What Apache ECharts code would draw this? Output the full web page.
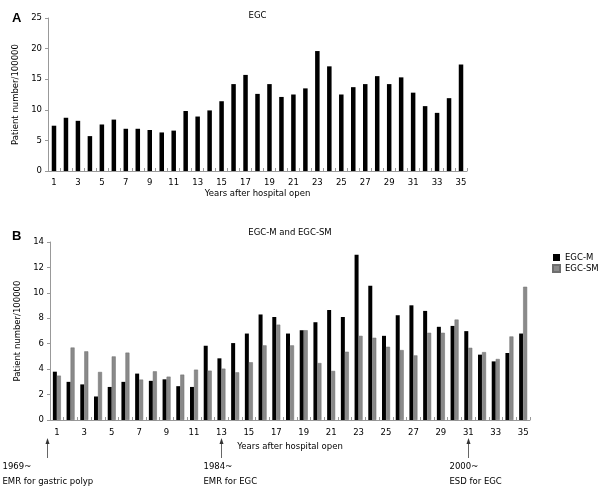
<!DOCTYPE html>
<html><head><meta charset="utf-8">
<script src="https://cdn.jsdelivr.net/npm/echarts@6/dist/echarts.min.js"></script>
<style>html,body{margin:0;padding:0;background:#fff}#c{width:608px;height:493px}</style>
</head><body><div id="c"></div>
<script>
var years = [];
for (var i = 1; i <= 35; i++) years.push(String(i));
var egc = [7.4,8.7,8.2,5.7,7.6,8.4,6.9,6.9,6.7,6.3,6.6,9.8,8.9,9.9,11.4,14.2,15.7,12.6,14.2,12.1,12.5,13.5,19.6,17.1,12.5,13.7,14.2,15.5,14.2,15.3,12.8,10.6,9.5,11.9,17.4];
var egcM = [3.8,3.0,2.8,1.85,2.6,3.0,3.65,3.08,3.2,2.66,2.6,5.84,4.85,6.05,6.8,8.3,8.1,6.8,7.06,7.69,8.65,8.1,13.0,10.56,6.62,8.24,9.02,8.58,7.33,7.4,6.99,5.14,4.61,5.27,6.8];
var egcSM = [3.49,5.7,5.4,3.78,5.0,5.3,3.18,3.83,3.41,3.57,3.96,3.88,4.04,3.75,4.54,5.87,7.5,5.87,7.06,4.48,3.86,5.37,6.62,6.47,5.76,5.5,5.08,6.86,6.86,7.9,5.68,5.34,4.8,6.57,10.48];
var events = [{cat:'1', year:'1969~', text:'EMR for gastric polyp', dx:-10, tdx:-45},
              {cat:'13', year:'1984~', text:'EMR for EGC', dx:0, tdx:-18},
              {cat:'31', year:'2000~', text:'ESD for EGC', dx:0, tdx:-19}];

var FONT = 'DejaVu Sans';
var FS = 8.5;
var txt = {fontFamily: FONT, fontSize: FS, color: '#000'};
var CSSF = FS + 'px "DejaVu Sans"';
function xAx(idx, gap, margin) {
  return {type:'category', gridIndex: idx, data: years, boundaryGap: true,
    name: 'Years after hospital open', nameLocation: 'middle', nameGap: gap,
    nameTextStyle: txt,
    axisLine: {lineStyle: {color: '#999', width: 1}},
    axisTick: {show: true, inside: true, length: 3, alignWithLabel: false, interval: 0, lineStyle: {color: '#999'}},
    axisLabel: Object.assign({interval: 1, margin: margin}, txt)};
}
function yAx(idx, max, step) {
  return {type:'value', gridIndex: idx, min: 0, max: max, interval: step,
    name: 'Patient number/100000', nameLocation: 'middle', nameGap: 17, nameRotate: 90,
    nameTextStyle: txt,
    splitLine: {show: false},
    axisLine: {show: true, lineStyle: {color: '#999'}},
    axisTick: {show: true, length: 3, lineStyle: {color: '#999'}},
    axisLabel: Object.assign({margin: 6}, txt)};
}
var chart = echarts.init(document.getElementById('c'), null, {renderer: 'canvas'});
var opt = {
  animation: false,
  grid: [{left: 48, right: 141, top: 18, bottom: 322},
         {left: 50, right: 78, top: 242, bottom: 73}],
  xAxis: [xAx(0, 18, 7), xAx(1, 22, 8)],
  yAxis: [yAx(0, 25, 5), yAx(1, 14, 2)],
  legend: {orient: 'vertical', left: 552, top: 253, padding: 0, itemWidth: 7, itemHeight: 7, itemGap: 2,
    textStyle: txt, data: ['EGC-M', 'EGC-SM'], icon: 'rect'},
  series: [
    {type: 'bar', name: 'EGC', xAxisIndex: 0, yAxisIndex: 0, data: egc, barWidth: 4.5,
     itemStyle: {color: '#000'}},
    {type: 'bar', name: 'EGC-M', xAxisIndex: 1, yAxisIndex: 1, data: egcM, barWidth: 4, barGap: '0%',
     itemStyle: {color: '#000'}},
    {type: 'bar', name: 'EGC-SM', xAxisIndex: 1, yAxisIndex: 1, data: egcSM, barWidth: 4, barGap: '0%',
     itemStyle: {color: '#8a8a8a', borderColor: '#6e6e6e', borderWidth: 0.5}}
  ]
};
chart.setOption(opt);

var g = [];
g.push({type:'text', left: 12, top: 12, style: {text: 'A', font: 'bold 13px Arial', fill: '#000'}});
g.push({type:'text', left: 12, top: 230, style: {text: 'B', font: 'bold 13px Arial', fill: '#000'}});
var gr0 = chart.getModel().getComponent('grid', 0).coordinateSystem.getRect();
var gr1 = chart.getModel().getComponent('grid', 1).coordinateSystem.getRect();
g.push({type:'text', x: gr0.x + gr0.width / 2, y: 11, style: {text: 'EGC', font: CSSF, fill: '#000', align: 'center'}});
g.push({type:'text', x: gr1.x + gr1.width / 2, y: 228, style: {text: 'EGC-M and EGC-SM', font: CSSF, fill: '#000', align: 'center'}});
events.forEach(function (e) {
  var p = chart.convertToPixel({xAxisIndex: 1, yAxisIndex: 1}, [e.cat, 0]);
  var x = Math.round(p[0] + e.dx) + 0.5;
  g.push({type:'line', shape: {x1: x, y1: 458, x2: x, y2: 442}, style: {stroke: '#666', lineWidth: 1}});
  g.push({type:'polygon', shape: {points: [[x, 438], [x - 2, 444], [x + 2, 444]]}, style: {fill: '#333'}});
  var tx = x + e.tdx;
  g.push({type:'text', x: tx, y: 462, style: {text: e.year, font: CSSF, fill: '#000'}});
  g.push({type:'text', x: tx, y: 477, style: {text: e.text, font: CSSF, fill: '#000'}});
});
chart.setOption({graphic: g});
</script></body></html>
